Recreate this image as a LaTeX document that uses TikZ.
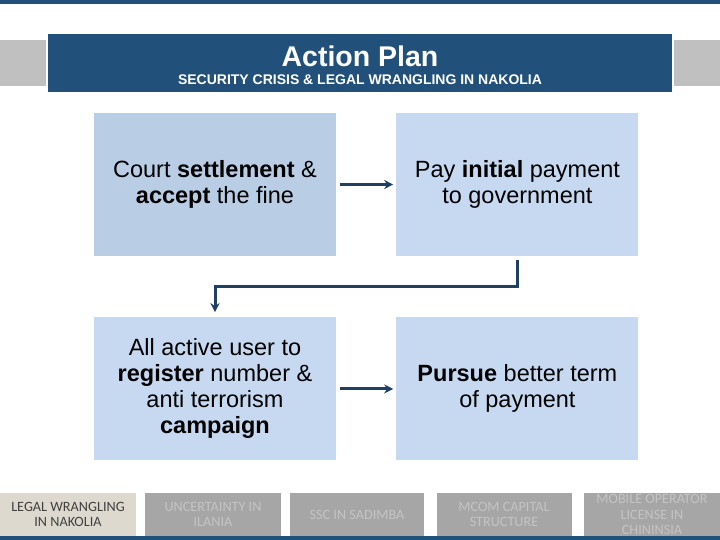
\documentclass[tikz,border=0pt]{standalone}
\usepackage{fontspec}
\setmainfont{Liberation Sans}
\newfontfamily\tabfont{Carlito}
\usepackage{xcolor}
\usetikzlibrary{arrows.meta, positioning}

\definecolor{navy}{HTML}{21507A}
\definecolor{arrowblue}{HTML}{1F3F63}
\definecolor{boxdark}{HTML}{B9CDE5}
\definecolor{boxlight}{HTML}{C6D9F1}
\definecolor{sidegray}{HTML}{C0C0C0}
\definecolor{tabgray}{HTML}{A6A6A6}
\definecolor{tabbeige}{HTML}{DDD9CF}
\definecolor{tabtext}{HTML}{C4C4C4}

\begin{document}
\begin{tikzpicture}[
  x=1pt, y=-1pt,
  node distance=60pt,
  box/.style={rectangle, fill=boxlight, minimum width=242pt, minimum height=143pt,
              align=center, inner sep=0pt, font=\fontsize{23.5}{26}\selectfont},
  tab/.style={rectangle, fill=tabgray, minimum height=43pt, align=center, inner sep=0pt,
              text=tabtext, font=\tabfont\fontsize{14.2}{15.5}\selectfont},
  arrow/.style={-{Stealth[length=9pt, width=9pt]}, line width=3pt, draw=arrowblue},
]
  \useasboundingbox (0,0) rectangle (720,540);
  \fill[white] (0,0) rectangle (720,540);

  % frame bars
  \fill[navy] (0,0) rectangle (720,4);
  \fill[navy] (0,536) rectangle (720,540);

  % title banner
  \fill[sidegray] (0,40) rectangle (46,86);
  \fill[sidegray] (674,40) rectangle (720,86);
  \node[rectangle, fill=navy, minimum width=624pt, minimum height=58pt, inner sep=0pt] (banner) at (360,63) {};
  \node[text=white, font=\bfseries\fontsize{28.5}{30}\selectfont] (title) at (360,56) {Action Plan};
  \node[text=white, font=\bfseries\fontsize{14}{16}\selectfont] (subtitle) at (360,80) {SECURITY CRISIS \& LEGAL WRANGLING IN NAKOLIA};

  % action boxes
  \node[box, fill=boxdark] (court) at (215,184.5) {Court \textbf{settlement} \&\\ \textbf{accept} the fine};
  \node[box, right=of court] (pay) {Pay \textbf{initial} payment\\ to government};
  \node[box, below=61pt of court] (users) {All active user to\\ \textbf{register} number \&\\ anti terrorism\\ \textbf{campaign}};
  \node[box, right=of users] (pursue) {\textbf{Pursue} better term\\ of payment};

  \draw[arrow, shorten <=4pt, shorten >=3pt] (court) -- (pay);
  \draw[arrow, shorten <=4pt, shorten >=3pt] (users) -- (pursue);
  \draw[arrow, shorten <=4pt, shorten >=5pt] (pay.south) -- ([yshift=-30pt]pay.south) -| (users.north);

  % bottom tabs
  \node[tab, fill=tabbeige, text=black!75, minimum width=136pt] (tab1) at (68,514.5) {LEGAL WRANGLING\\ IN NAKOLIA};
  \node[tab, minimum width=136pt] (tab2) at (213,514.5) {UNCERTAINTY IN\\ ILANIA};
  \node[tab, minimum width=134pt] (tab3) at (357,514.5) {SSC IN SADIMBA};
  \node[tab, minimum width=135pt] (tab4) at (504,514.5) {MCOM CAPITAL\\ STRUCTURE};
  \node[tab, minimum width=136pt] (tab5) at (652,514.5) {MOBILE OPERATOR\\ LICENSE IN\\ CHININSIA};
\end{tikzpicture}
\end{document}
